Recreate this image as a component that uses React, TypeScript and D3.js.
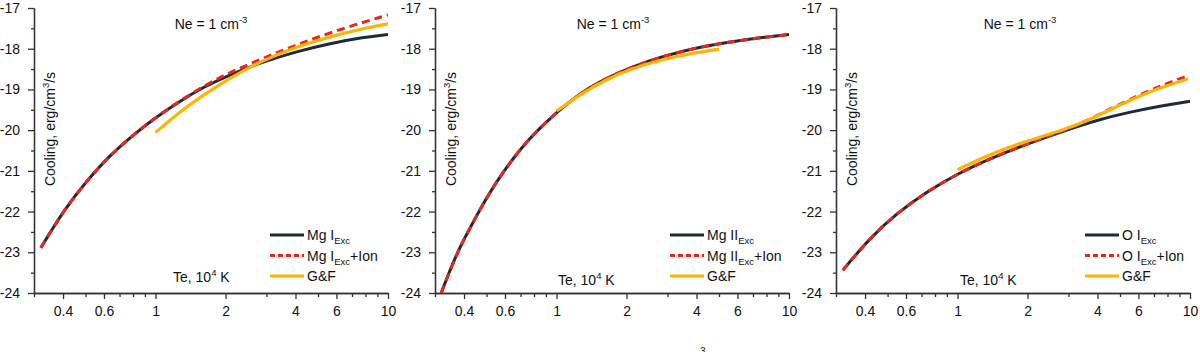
import React, { useEffect, useRef } from 'react';
import * as d3 from 'd3';

type Pt = [number, number];

// axis ticks
const xMajorTicks = [0.4, 0.6, 1, 2, 4, 6, 10];
const xMinorTicks = [0.3, 0.5, 0.7, 0.8, 0.9, 3, 5, 7, 8, 9];
const yMajorTicks = [-24, -23, -22, -21, -20, -19, -18, -17];
const yMinorTicks = [-23.5, -22.5, -21.5, -20.5, -19.5, -18.5, -17.5];

// Mg I  (Te in 10^4 K, log cooling)
const mgIExc: Pt[] = [
  [0.321, -22.89], [0.4, -21.99], [0.51, -21.22], [0.633, -20.63], [0.8, -20.12],
  [1, -19.69], [1.27, -19.29], [1.6, -18.95], [2.02, -18.67], [2.9, -18.32],
  [4.05, -18.07], [5.64, -17.87], [7.85, -17.72], [10, -17.65],
];
const mgIExcIon: Pt[] = [
  [0.321, -22.89], [0.4, -21.99], [0.51, -21.22], [0.633, -20.63], [0.8, -20.12],
  [1, -19.69], [1.27, -19.28], [1.6, -18.93], [2.02, -18.62], [2.55, -18.37],
  [3.91, -17.93], [6.22, -17.52], [10, -17.17],
];
const mgIGF: Pt[] = [
  [1, -20.06], [1.27, -19.55], [1.6, -19.14], [2.09, -18.72], [2.9, -18.28],
  [4.05, -17.95], [5.64, -17.7], [7.85, -17.5], [10, -17.39],
];

// Mg II
const mgIIExc: Pt[] = [
  [0.319, -24.0], [0.37, -23.05], [0.42, -22.45], [0.5, -21.65], [0.6, -20.95],
  [0.75, -20.25], [0.875, -19.88], [1, -19.56], [1.26, -19.1], [1.59, -18.76],
  [2.07, -18.46], [2.89, -18.18], [4.02, -17.97], [5.6, -17.83], [7.8, -17.72], [10, -17.65],
];
const mgIIExcIon: Pt[] = [
  [0.319, -24.0], [0.37, -23.05], [0.42, -22.45], [0.5, -21.65], [0.6, -20.95],
  [0.75, -20.25], [0.875, -19.88], [1, -19.56], [1.26, -19.1], [1.59, -18.76],
  [2.07, -18.46], [2.89, -18.18], [4.02, -17.97], [5.6, -17.83], [7.8, -17.72], [10, -17.65],
];
const mgIIGF: Pt[] = [
  [1, -19.53], [1.26, -19.13], [1.59, -18.79], [2.07, -18.5], [2.89, -18.25],
  [4.02, -18.09], [5, -18.01],
];

// O I
const oIExc: Pt[] = [
  [0.321, -23.44], [0.418, -22.66], [0.545, -22.05], [0.735, -21.52], [1, -21.07],
  [1.38, -20.7], [1.92, -20.37], [2.86, -20.02], [3.98, -19.75], [5.55, -19.55],
  [7.73, -19.39], [10, -19.29],
];
const oIExcIon: Pt[] = [
  [0.321, -23.44], [0.418, -22.66], [0.545, -22.05], [0.735, -21.52], [1, -21.07],
  [1.38, -20.7], [1.92, -20.37], [2.86, -20.01], [3.73, -19.73], [5.19, -19.31],
  [7.23, -18.94], [9.75, -18.67],
];
const oIGF: Pt[] = [
  [1, -20.97], [1.38, -20.59], [1.92, -20.29], [2.86, -20.0], [3.73, -19.74],
  [5.19, -19.33], [7.23, -18.98], [9.8, -18.74],
];

const ionNames = ['Mg I', 'Mg II', 'O I'];

const panels = [
  { name: ionNames[0], exc: mgIExc, excIon: mgIExcIon, gf: mgIGF, left: 34, legendX: 236, neX: 177, teX: 139, teY: 282 },
  { name: ionNames[1], exc: mgIIExc, excIon: mgIIExcIon, gf: mgIIGF, left: 435, legendX: 235, neX: 178, teX: 123, teY: 285 },
  { name: ionNames[2], exc: oIExc, excIon: oIExcIon, gf: oIGF, left: 836, legendX: 249, neX: 184, teX: 124, teY: 285 },
];

const FONT = '"Liberation Sans", Arial, Helvetica, sans-serif';
const NAVY = '#1c2a39';
const RED = '#e8261c';
const ORANGE = '#ffb400';
const AXIS = '#333';

export default function App() {
  const svgRef = useRef<SVGSVGElement>(null);

  useEffect(() => {
    const svg = d3.select(svgRef.current);
    svg.selectAll('*').remove();

    const top = 8;
    const bottom = 293;
    const w = 354;
    const defs = svg.append('defs');

    const x = d3.scaleLog().domain([0.3, 10]).range([0, w]);
    const y = d3.scaleLinear().domain([-24, -17]).range([bottom, top]);

    const line = d3.line<Pt>()
      .x(d => x(d[0]))
      .y(d => y(d[1]))
      .curve(d3.curveBasis);

    const styleAxis = (a: any) => {
      a.attr('font-family', FONT).attr('font-size', 14);
      a.selectAll('path, line').attr('stroke', AXIS).attr('stroke-width', 1.3);
      a.selectAll('text').attr('fill', '#111');
    };

    panels.forEach((p, i) => {
      const g = svg.append('g').attr('transform', `translate(${p.left},0)`);

      defs.append('clipPath').attr('id', `clip${i}`)
        .append('rect')
        .attr('x', 0).attr('y', top)
        .attr('width', w).attr('height', bottom - top);

      // axes
      g.append('g').attr('transform', `translate(0,${bottom})`)
        .call(d3.axisBottom(x).tickValues(xMinorTicks).tickSize(4).tickSizeOuter(0).tickFormat(() => ''))
        .call(styleAxis);
      g.append('g').attr('transform', `translate(0,${bottom})`)
        .call(d3.axisBottom(x).tickValues(xMajorTicks).tickSize(6).tickSizeOuter(0).tickPadding(7)
          .tickFormat(d => String(d)))
        .call(styleAxis);
      g.append('g')
        .call(d3.axisLeft(y).tickValues(yMinorTicks).tickSize(3).tickSizeOuter(0).tickFormat(() => ''))
        .call(styleAxis);
      g.append('g')
        .call(d3.axisLeft(y).tickValues(yMajorTicks).tickSize(6).tickSizeOuter(0).tickPadding(8)
          .tickFormat(d => String(d)))
        .call(styleAxis);

      // curves
      const plot = g.append('g').attr('clip-path', `url(#clip${i})`);
      plot.append('path').datum(p.exc)
        .attr('d', line).attr('fill', 'none')
        .attr('stroke', NAVY).attr('stroke-width', 3);
      plot.append('path').datum(p.excIon)
        .attr('d', line).attr('fill', 'none')
        .attr('stroke', RED).attr('stroke-width', 3)
        .attr('stroke-dasharray', '8,5');
      plot.append('path').datum(p.gf)
        .attr('d', line).attr('fill', 'none')
        .attr('stroke', ORANGE).attr('stroke-width', 3.2);

      // Ne label
      const ne = g.append('text')
        .attr('x', p.neX).attr('y', 29)
        .attr('text-anchor', 'middle')
        .attr('font-family', FONT).attr('font-size', 14).attr('fill', '#111');
      ne.append('tspan').text('Ne = 1 cm');
      ne.append('tspan').attr('font-size', 9.5).attr('dy', -6).text('-3');

      // y title
      const yt = g.append('text')
        .attr('transform', `translate(21,129) rotate(-90)`)
        .attr('text-anchor', 'middle')
        .attr('font-family', FONT).attr('font-size', 14).attr('fill', '#111');
      yt.append('tspan').text('Cooling, erg/cm');
      yt.append('tspan').attr('font-size', 9.5).attr('dy', -6).text('3');
      yt.append('tspan').attr('dy', 6).text('/s');

      // x title
      const xt = g.append('text')
        .attr('x', p.teX).attr('y', p.teY)
        .attr('font-family', FONT).attr('font-size', 14).attr('fill', '#111');
      xt.append('tspan').text('Te, 10');
      xt.append('tspan').attr('font-size', 9.5).attr('dy', -6).text('4');
      xt.append('tspan').attr('dy', 6).text(' K');

      // legend
      const rows = [
        { color: NAVY, dash: null as string | null, label: p.name, ion: false },
        { color: RED, dash: '5,3', label: p.name, ion: true },
        { color: ORANGE, dash: null as string | null, label: 'G&F', ion: false },
      ];
      rows.forEach((r, k) => {
        const ly = 235 + k * 20.5;
        g.append('line')
          .attr('x1', p.legendX).attr('x2', p.legendX + 34)
          .attr('y1', ly).attr('y2', ly)
          .attr('stroke', r.color).attr('stroke-width', 3)
          .attr('stroke-dasharray', r.dash);
        const t = g.append('text')
          .attr('x', p.legendX + 37).attr('y', ly + 5)
          .attr('font-family', FONT).attr('font-size', 14).attr('fill', '#111');
        t.append('tspan').text(r.label);
        if (r.label !== 'G&F') {
          t.append('tspan').attr('font-size', 9.5).attr('dy', 4).text('Exc');
          if (r.ion) t.append('tspan').attr('dy', -4).text('+Ion');
        }
      });
    });

    // top of a cut-off caption below the figure
    svg.append('text')
      .attr('x', 700).attr('y', 355)
      .attr('font-family', FONT).attr('font-size', 10).attr('fill', '#111')
      .text('3');
  }, []);

  return (
    <svg
      ref={svgRef}
      width={1200}
      height={352}
      style={{ position: 'absolute', left: 0, top: 0, background: '#fff' }}
    />
  );
}
